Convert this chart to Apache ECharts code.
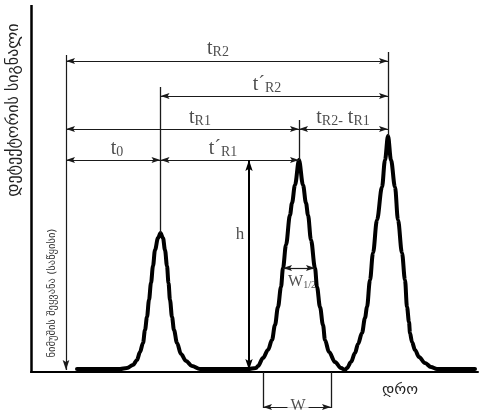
<!DOCTYPE html>
<html><head><meta charset="utf-8">
<script src="https://cdn.jsdelivr.net/npm/echarts@6/dist/echarts.min.js"></script>
<style>html,body{margin:0;padding:0;background:#fff}#c{width:480px;height:412px}</style>
</head><body><div id="c"></div><script>
// Chromatogram trace (time, detector signal)
const times = [46, 89, 96, 102, 106, 109, 112, 114, 116, 118, 120, 122, 124, 127, 129.5, 132, 134, 136, 137.5, 139, 141, 143, 146, 150, 155, 161, 169,
  217, 225, 227, 232, 237, 241, 244, 247, 250, 252, 255, 259, 261, 264, 268, 272, 275, 277, 280, 284, 286, 289, 292, 294, 298, 304, 310, 314,
  316, 320, 324, 327, 331, 334, 336, 339, 342, 346, 351, 354, 357, 360, 364, 367, 371, 374, 376, 378, 379, 381, 384, 388, 394, 400, 406, 444];
const signal = [3, 3, 4, 7, 12, 20, 29, 42, 55, 72, 89, 106, 122, 134, 139, 134, 122, 106, 89, 72, 55, 42, 29, 18, 11, 6, 3,
  3, 4, 6, 14, 22, 32, 47, 65, 85, 104, 127, 157, 169, 187, 212, 187, 169, 157, 132, 104, 85, 65, 47, 32, 20, 10, 4, 2,
  4, 10, 19, 28, 39, 54, 65, 92, 119, 152, 185, 212, 236, 212, 185, 152, 119, 92, 65, 50, 39, 30, 22, 15, 9, 5, 3, 3];

// Key times and heights
const injectionTime = 35;
const retentionTimes = [129.5, 268, 357];
const peakTops = [139, 212, 236];
const refLineTops = [285, 252, 320];
const injectionLineTop = 317;

// Dimension arrows
const dimNames = ['t{s|R2}', 't´{s|R2}', 't{s|R1}', 't{s|R2-} t{s|R1}', 't{s|0}', 't´{s|R1}'];
const dimStart = [35, 129.5, 35, 268, 35, 129.5];
const dimEnd = [357, 357, 268, 357, 129.5, 268];
const dimLevel = [311, 276, 243, 243, 212, 212];
const dimLabelX = [187, 236, 169, 312, 86, 192];
const dimLabelY = [323, 287, 254, 254, 223, 223];

// Peak 2 measures
const hTime = 218;
const halfWidthLevel = 104;
const halfWidthStart = 252, halfWidthEnd = 284;
const baseWidthStart = 232, baseWidthEnd = 300;
const baseWidthLevel = -35, baseWidthLineBottom = -36;

const yTitle = 'დეტექტორის სიგნალი';
const injectText = 'ნიმუშის შეყვანა (საწყისი)';
const xTitle = 'დრო';

const ARROW = 'path://M0,0L0.01,0.01L0,0.01ZM18,18L17.99,17.99L18,17.99ZM9,9L12,18L9,16.2L6,18Z';
const LINE = '#1a1a1a';

const chart = echarts.init(document.getElementById('c'), null, {renderer: 'canvas'});

function seg(a, b) { return [{coord: a}, {coord: b}]; }

const dimLines = dimNames.map((n, i) => seg([dimStart[i], dimLevel[i]], [dimEnd[i], dimLevel[i]]));
dimLines.push(seg([halfWidthStart, halfWidthLevel], [halfWidthEnd, halfWidthLevel]));
dimLines.push(seg([baseWidthStart, baseWidthLevel], [baseWidthEnd, baseWidthLevel]));

const refLines = retentionTimes.map((t, i) => seg([t, refLineTops[i]], [t, peakTops[i]]));
refLines.push(seg([baseWidthStart, 0], [baseWidthStart, baseWidthLineBottom]));
refLines.push(seg([baseWidthEnd, 0], [baseWidthEnd, baseWidthLineBottom]));

const labelData = dimNames.map((n, i) => ({value: [dimLabelX[i], dimLabelY[i]], label: {formatter: n}}));
labelData.push({value: [209, 137], label: {formatter: '{h|h}'}});
labelData.push({value: [271, 90], label: {formatter: '{w|W}{ws|1/2}'}});
labelData.push({value: [267, -34], label: {formatter: '{w|W}', backgroundColor: '#fff', padding: [0, 3]}});

const emptyMark = {silent: true, animation: false, label: {show: false}, emphasis: {disabled: true}};

chart.setOption({
  animation: false,
  grid: {left: 31, right: 2, top: 5, bottom: 0},
  xAxis: {type: 'value', min: 0, max: 447,
    axisLine: {show: true, onZero: true, lineStyle: {color: '#000', width: 2}},
    axisTick: {show: false}, axisLabel: {show: false}, splitLine: {show: false}},
  yAxis: {type: 'value', min: -40, max: 367,
    axisLine: {show: false}, axisTick: {show: false}, axisLabel: {show: false}, splitLine: {show: false}},
  graphic: [
    {type: 'text', x: 14, y: 110, rotation: Math.PI / 2,
      style: {text: yTitle, fontFamily: 'DejaVu Sans', fontSize: 16, fill: '#222', textAlign: 'center', textVerticalAlign: 'middle'}},
    {type: 'text', x: 52, y: 293, rotation: Math.PI / 2,
      style: {text: injectText, fontFamily: 'DejaVu Sans', fontSize: 10.5, fill: '#333', textAlign: 'center', textVerticalAlign: 'middle'}},
    {type: 'text', x: 400, y: 390,
      style: {text: xTitle, fontFamily: 'DejaVu Sans', fontSize: 15, fill: '#222', textAlign: 'center', textVerticalAlign: 'middle'}}
  ],
  series: [
    {type: 'line', name: 'chromatogram', z: 4, symbol: 'none', smooth: 0.35, smoothMonotone: 'x',
      data: times.map((t, i) => [t, signal[i]]),
      lineStyle: {color: '#000', width: 4, join: 'round', cap: 'round'}},
    {type: 'line', name: 'yaxis', data: [], z: 2,
      markLine: Object.assign({}, emptyMark, {symbol: ['none', 'none'],
        lineStyle: {color: '#000', width: 2.5, type: 'solid'},
        data: [seg([0, -1], [0, 367])]})},
    {type: 'line', name: 'refs', data: [], z: 2,
      markLine: Object.assign({}, emptyMark, {symbol: ['none', 'none'],
        lineStyle: {color: LINE, width: 1.3, type: 'solid'},
        data: refLines})},
    {type: 'line', name: 'inject', data: [], z: 2,
      markLine: Object.assign({}, emptyMark, {symbol: ['none', ARROW], symbolSize: 20,
        lineStyle: {color: LINE, width: 1.2, type: 'solid'},
        data: [seg([injectionTime, injectionLineTop], [injectionTime, 2])]})},
    {type: 'line', name: 'dims', data: [], z: 2,
      markLine: Object.assign({}, emptyMark, {symbol: [ARROW, ARROW], symbolSize: 18,
        lineStyle: {color: LINE, width: 1.2, type: 'solid'},
        data: dimLines})},
    {type: 'line', name: 'h', data: [], z: 2,
      markLine: Object.assign({}, emptyMark, {symbol: [ARROW, ARROW], symbolSize: 22,
        lineStyle: {color: '#000', width: 2, type: 'solid'},
        data: [seg([hTime, peakTops[1]], [hTime, 2])]})},
    {type: 'scatter', name: 'labels', z: 6, symbolSize: 0, silent: true,
      data: labelData,
      label: {show: true, position: 'inside', color: '#222',
        fontFamily: 'Liberation Serif', fontSize: 20, lineHeight: 20,
        rich: {
          s: {fontFamily: 'Liberation Serif', fontSize: 14, lineHeight: 15, verticalAlign: 'bottom', color: '#222'},
          h: {fontFamily: 'Liberation Serif', fontSize: 17, color: '#222'},
          w: {fontFamily: 'Liberation Serif', fontSize: 16, lineHeight: 16, color: '#222'},
          ws: {fontFamily: 'Liberation Serif', fontSize: 10, lineHeight: 11, verticalAlign: 'bottom', color: '#222'}
        }}}
  ]
});
</script></body></html>
